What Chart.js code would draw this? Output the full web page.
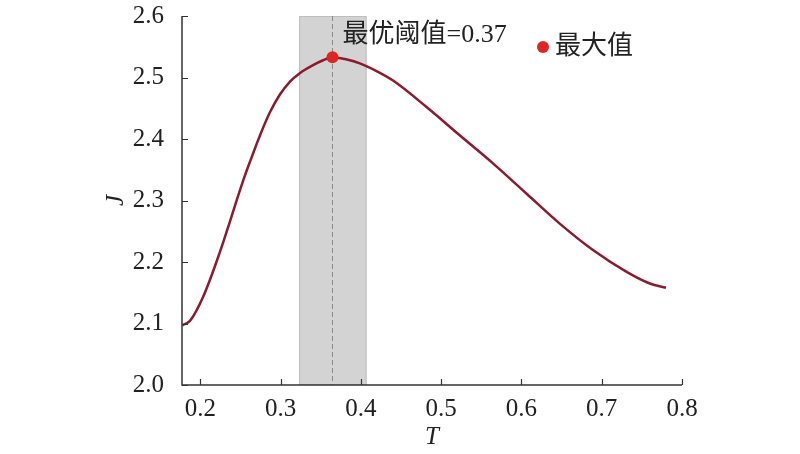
<!DOCTYPE html>
<html>
<head>
<meta charset="utf-8">
<script src="https://cdn.jsdelivr.net/npm/chart.js@4/dist/chart.umd.min.js"></script>
<style>
  html, body { margin: 0; padding: 0; background: #fff; }
  #wrap { width: 800px; height: 454px; }
</style>
</head>
<body>
<div id="wrap"><canvas id="c" width="800" height="454"></canvas></div>
<script>
// curve
const tValues = [0.1775, 0.1866, 0.195, 0.2032, 0.2115, 0.2199, 0.2281, 0.2365, 0.2448, 0.2531, 0.2614, 0.2739, 0.2864, 0.2988, 0.3113, 0.3238, 0.3403, 0.3528, 0.3645, 0.380, 0.3986, 0.420, 0.440, 0.4817, 0.523, 0.5648, 0.6064, 0.648, 0.6895, 0.731, 0.760, 0.780];
const jValues = [2.097, 2.104, 2.121, 2.143, 2.170, 2.200, 2.231, 2.265, 2.299, 2.332, 2.362, 2.405, 2.443, 2.472, 2.493, 2.507, 2.520, 2.528, 2.533, 2.530, 2.523, 2.510, 2.495, 2.452, 2.406, 2.360, 2.311, 2.262, 2.219, 2.184, 2.165, 2.158];

const bestT = [0.3645];
const bestJ = [2.533];
const band = [0.323, 0.407];
const xTicks = [0.2, 0.3, 0.4, 0.5, 0.6, 0.7, 0.8];
const yTicks = [2.0, 2.1, 2.2, 2.3, 2.4, 2.5, 2.6];
const bestLabel = '最优阈值=0.37';
const legendLabel = '最大值';

const serif = '"Liberation Serif", "Noto Sans CJK SC", serif';
const axisColor = '#333';

const extras = {
  id: 'extras',
  beforeDatasetsDraw(chart) {
    const { ctx, chartArea: { top, bottom } } = chart;
    const x = chart.scales.x;
    const x0 = x.getPixelForValue(band[0]);
    const x1 = x.getPixelForValue(band[1]);
    ctx.save();
    ctx.fillStyle = '#d3d3d3';
    ctx.fillRect(x0, top, x1 - x0, bottom - top);
    ctx.strokeStyle = '#bdbdbd';
    ctx.lineWidth = 1;
    ctx.strokeRect(x0 + 0.5, top + 0.5, x1 - x0 - 1, bottom - top - 1);
    // dashed line at the optimum
    const xb = Math.round(x.getPixelForValue(bestT[0])) + 0.5;
    ctx.strokeStyle = '#8a8a8a';
    ctx.setLineDash([5, 3]);
    ctx.beginPath();
    ctx.moveTo(xb, top);
    ctx.lineTo(xb, bottom);
    ctx.stroke();
    ctx.restore();
  },
  afterDraw(chart) {
    const { ctx, chartArea: { left, right, top, bottom } } = chart;
    const x = chart.scales.x, y = chart.scales.y;
    ctx.save();
    // axes
    ctx.strokeStyle = axisColor;
    ctx.lineWidth = 1.5;
    ctx.beginPath();
    ctx.moveTo(left, top);
    ctx.lineTo(left, bottom);
    ctx.lineTo(x.getPixelForValue(0.8), bottom);
    ctx.stroke();
    // inward ticks
    ctx.lineWidth = 1.2;
    ctx.beginPath();
    xTicks.forEach(v => {
      const px = Math.round(x.getPixelForValue(v)) + 0.5;
      ctx.moveTo(px, bottom);
      ctx.lineTo(px, bottom - 6);
    });
    yTicks.forEach(v => {
      const py = Math.round(y.getPixelForValue(v)) + 0.5;
      ctx.moveTo(left, py);
      ctx.lineTo(left + 6, py);
    });
    ctx.stroke();
    // axis titles
    ctx.fillStyle = '#222';
    ctx.font = 'italic 25px ' + serif;
    ctx.textAlign = 'center';
    ctx.textBaseline = 'middle';
    ctx.fillText('T', (left + x.getPixelForValue(0.8)) / 2, 437);
    ctx.save();
    ctx.translate(116, (top + bottom) / 2);
    ctx.rotate(-Math.PI / 2);
    ctx.fillText('J', 0, 0);
    ctx.restore();
    // annotation
    ctx.font = '26px ' + serif;
    ctx.textAlign = 'left';
    ctx.textBaseline = 'alphabetic';
    ctx.fillText(bestLabel, x.getPixelForValue(bestT[0]) + 10, 42);
    // legend
    ctx.fillStyle = '#e02424';
    ctx.beginPath();
    ctx.arc(543, 47, 6, 0, Math.PI * 2);
    ctx.fill();
    ctx.fillStyle = '#222';
    ctx.textBaseline = 'middle';
    ctx.fillText(legendLabel, 555, 47);
    ctx.restore();
  }
};

new Chart(document.getElementById('c'), {
  type: 'scatter',
  data: {
    datasets: [
      {
        data: tValues.map((t, i) => ({ x: t, y: jValues[i] })),
        showLine: true,
        borderColor: '#8b1a2e',
        borderWidth: 2.5,
        pointRadius: 0,
        cubicInterpolationMode: 'monotone',
        order: 2
      },
      {
        data: bestT.map((t, i) => ({ x: t, y: bestJ[i] })),
        pointRadius: 6,
        pointBackgroundColor: '#e02424',
        pointBorderWidth: 0,
        order: 1
      }
    ]
  },
  options: {
    responsive: false,
    animation: false,
    events: [],
    layout: { padding: { top: 16, right: 118, left: 0, bottom: 0 } },
    plugins: {
      legend: { display: false },
      tooltip: { enabled: false }
    },
    scales: {
      x: {
        type: 'linear',
        min: 0.177,
        max: 0.8,
        afterBuildTicks: s => { s.ticks = xTicks.map(v => ({ value: v })); },
        afterFit: s => { s.height = 69; },
        border: { display: false },
        grid: { display: false },
        ticks: {
          padding: 1,
          color: '#222',
          font: { family: serif, size: 25 },
          callback: v => v.toFixed(1)
        }
      },
      y: {
        min: 2.0,
        max: 2.6,
        afterBuildTicks: s => { s.ticks = yTicks.map(v => ({ value: v })); },
        afterFit: s => { s.width = 182; s.paddingTop = 0; s.paddingBottom = 0; },
        border: { display: false },
        grid: { display: false },
        ticks: {
          padding: 10,
          color: '#222',
          font: { family: serif, size: 25 },
          callback: v => v.toFixed(1)
        }
      }
    }
  },
  plugins: [extras]
});
</script>
</body>
</html>
